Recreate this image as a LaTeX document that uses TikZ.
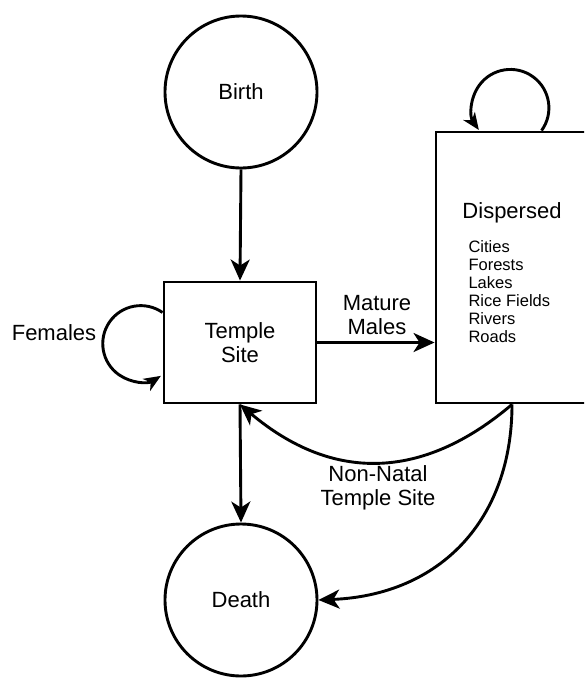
\documentclass[tikz,border=0pt]{standalone}
\usepackage{fontspec}
\setmainfont{Liberation Sans}
\usetikzlibrary{arrows.meta,calc}
\begin{document}
\begin{tikzpicture}[x=1pt,y=-1pt,
  lw/.style={line width=2.9pt},
  arr/.style={lw,-{Stealth[length=21pt,width=19pt,inset=6pt]}},
  looparr/.style={lw,-{Stealth[length=17pt,width=14pt,inset=5pt]}},
  bigtext/.style={font=\fontsize{22}{24}\selectfont, align=center},
  smalltext/.style={font=\fontsize{16.5}{18}\selectfont, align=left},
  statecirc/.style={circle, draw, lw, minimum size=152pt, inner sep=0pt, bigtext},
  statebox/.style={rectangle, draw, lw, inner sep=0pt, bigtext}]
\clip (0,0) rectangle (584,683);
\fill[white] (0,0) rectangle (584,683);
\node[statecirc] (birth) at (241,92) {Birth};
\node[statecirc] (death) at (241,600) {Death};
\node[statebox, minimum width=152pt, minimum height=121pt] (temple) at (240,342.5) {Temple\\Site};
\node[statebox, minimum width=152pt, minimum height=271pt] (disp) at (512,267.5) {};
\node[bigtext] (disptitle) at (512,213) {Dispersed};
\node[smalltext, anchor=west] (displist) at (465,292) {Cities\\Forests\\Lakes\\Rice Fields\\Rivers\\Roads};
\node[bigtext] (females) at (54,333) {Females};
\node[bigtext] (mature) at (377,315) {Mature\\Males};
\node[bigtext] (nonnatal) at (378,488) {Non-Natal\\Temple Site};
\draw[arr] (birth.south) -- (temple.north);
\draw[arr] (temple.south) -- (death.north);
\draw[arr] (temple.east) -- (temple.east -| disp.west);
\draw[looparr] ($(temple.west)+(0,-30)$) arc[start angle=-55, end angle=-302, radius=38];
\draw[looparr] ($(disp.north west)+(107,0)$) arc[start angle=36, end angle=-215, radius=38.5];
\draw[arr] (disp.south) .. controls (422,481) and (332,482) .. (temple.south);
\draw[arr] (disp.south) .. controls (512,520) and (440,595) .. (death.east);
\end{tikzpicture}
\end{document}
